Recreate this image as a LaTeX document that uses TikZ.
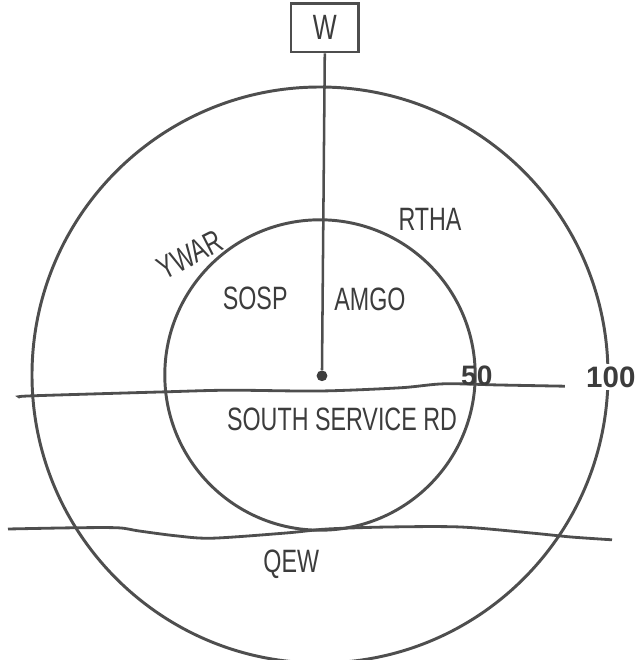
\documentclass[tikz,border=0pt]{standalone}
\usepackage{fontspec}
\setmainfont{Liberation Sans}
\usetikzlibrary{positioning}
\definecolor{pencil}{RGB}{78,78,78}
\definecolor{lead}{RGB}{60,60,60}
\newcommand{\narrowtext}[1]{\scalebox{0.72}[1]{#1}}
\tikzset{
  ring/.style={draw=pencil,line width=2.1pt},
  road/.style={draw=pencil,line width=2pt},
  hand/.style={text=lead,font=\fontsize{23}{27}\selectfont,inner sep=1pt},
  dist/.style={text=lead,font=\fontsize{20}{23}\selectfont\bfseries,inner sep=1pt},
  sign/.style={draw=pencil,line width=1.6pt,minimum width=16.8mm,minimum height=12.2mm,
    text=lead,font=\fontsize{25}{28}\selectfont,inner sep=0pt},
  pin/.style={circle,fill=pencil!80!black,minimum size=2.7mm,inner sep=0pt},
}
\begin{document}
\begin{tikzpicture}
  \useasboundingbox (-8.0,-7.125) rectangle (7.925,9.375);
  % rings
  \draw[ring] (0,0) circle (7.2);
  \draw[ring] (0,0) circle (3.88);
  % roads
  \draw[road] plot[smooth] coordinates {(-7.5,-0.55) (-7.18,-0.52) (-3.85,-0.42)
    (-2.25,-0.38) (0,-0.4) (2.0,-0.32) (3.1,-0.22) (4.5,-0.25) (6.12,-0.28)};
  \draw[road] plot[smooth] coordinates {(-7.8,-3.85) (-6.18,-3.82) (-5.05,-3.82)
    (-4.52,-3.9) (-3.6,-4.02) (-2.7,-4.08) (-0.85,-3.95) (0.18,-3.85) (1.7,-3.8)
    (3.52,-3.8) (5.28,-3.95) (6.28,-4.05) (7.3,-4.12)};
  % site and wind sign
  \node[pin] (ctr) at (0.05,-0.02) {};
  \node[sign] (w) at (0.12,8.68) {\narrowtext{W}};
  \draw[ring,line width=1.8pt] (w.south) -- (ctr.north);
  % labels
  \node[hand,rotate=27] (ywar) at (-3.25,3.0) {\narrowtext{YWAR}};
  \node[hand] (rtha) at (2.75,3.88) {\narrowtext{RTHA}};
  \node[hand] (sosp) at (-1.62,1.92) {\narrowtext{SOSP}};
  \node[hand] (amgo) at (1.25,1.88) {\narrowtext{AMGO}};
  \node[hand] (ssr) at (0.55,-1.12) {\narrowtext{SOUTH SERVICE RD}};
  \node[hand] (qew) at (-0.72,-4.72) {\narrowtext{QEW}};
  \node[dist] (d50) at (3.92,-0.02) {50};
  \node[dist,fill=white,inner sep=2pt,font=\fontsize{21}{24}\selectfont\bfseries] (d100) at (7.27,-0.05) {100};
\end{tikzpicture}
\end{document}
